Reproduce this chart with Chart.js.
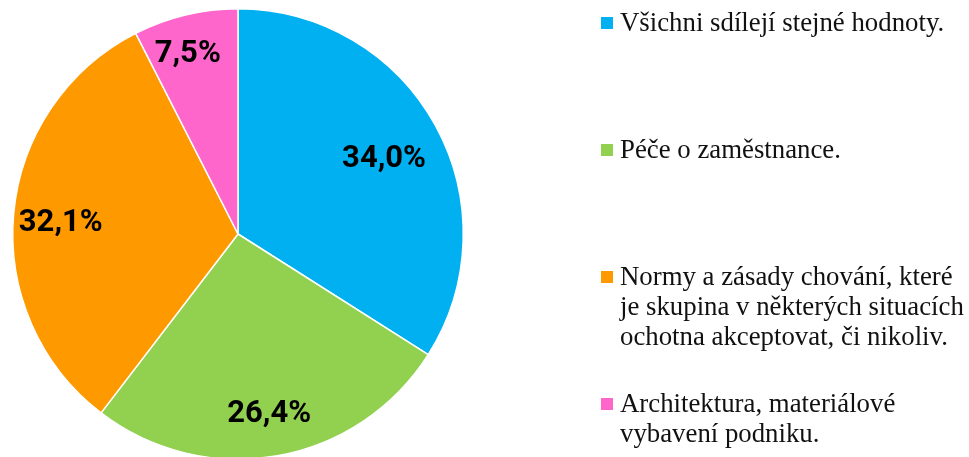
<!DOCTYPE html>
<html>
<head>
    <meta charset="utf-8">
    <title>Hodnoty</title>
    <style>
        html, body { margin: 0; padding: 0; width: 969px; height: 457px; overflow: hidden; background: #fff; }
        canvas { display: block; }
    </style>
</head>
<body>
    <canvas id="myChart" width="969" height="460"></canvas>

    <script src="https://cdn.jsdelivr.net/npm/chart.js"></script>
    <script>
        // data
        const labels = [
            ['Všichni sdílejí stejné hodnoty.'],
            ['Péče o zaměstnance.'],
            ['Normy a zásady chování, které', 'je skupina v některých situacích', 'ochotna akceptovat, či nikoliv.'],
            ['Architektura, materiálové', 'vybavení podniku.']
        ];
        const values = [34.0, 26.4, 32.1, 7.5];
        const colors = ['#00B0F0', '#92D050', '#FF9900', '#FF66CC'];

        // where the percent labels sit, as fraction of radius
        const labelRadius = [0.74, 0.79, 0.79, 0.85];
        const labelShift = [0, 0, 0, -0.03]; // small angle nudge (rad)

        const pieLabels = {
            id: 'pieLabels',
            afterDatasetsDraw(chart) {
                const ctx = chart.ctx;
                const meta = chart.getDatasetMeta(0);
                ctx.save();
                ctx.font = 'bold 31px Roboto, sans-serif';
                ctx.fillStyle = '#000';
                ctx.textAlign = 'center';
                ctx.textBaseline = 'alphabetic';
                meta.data.forEach((arc, i) => {
                    const p = arc.getProps(['x', 'y', 'startAngle', 'endAngle', 'outerRadius']);
                    const mid = (p.startAngle + p.endAngle) / 2 + labelShift[i];
                    const r = p.outerRadius * labelRadius[i];
                    const txt = values[i].toFixed(1).replace('.', ',') + '%';
                    ctx.fillText(txt, p.x + Math.cos(mid) * r, p.y + Math.sin(mid) * r + 13);
                });
                ctx.restore();
            }
        };

        // legend drawn on the right side of the canvas
        const sideLegend = {
            id: 'sideLegend',
            afterDraw(chart, args, opts) {
                const ctx = chart.ctx;
                ctx.save();
                ctx.font = opts.font;
                ctx.textAlign = 'left';
                ctx.textBaseline = 'alphabetic';
                chart.data.labels.forEach((lines, i) => {
                    const base = opts.top + i * opts.step;
                    ctx.fillStyle = chart.data.datasets[0].backgroundColor[i];
                    ctx.fillRect(opts.left, base - 14, 12, 12);
                    ctx.fillStyle = '#111';
                    lines.forEach((line, j) => {
                        ctx.fillText(line, opts.left + 19, base + j * opts.lineHeight);
                    });
                });
                ctx.restore();
            }
        };

        const myChart = new Chart(document.getElementById('myChart'), {
            type: 'pie',
            data: {
                labels: labels,
                datasets: [{
                    data: values,
                    backgroundColor: colors,
                    borderColor: '#fff',
                    borderWidth: 1.5
                }]
            },
            options: {
                responsive: false,
                animation: false,
                layout: { padding: { left: 12, top: 8, right: 505, bottom: 0 } },
                plugins: {
                    legend: { display: false },
                    tooltip: { enabled: false },
                    sideLegend: { left: 601, top: 31, step: 127, lineHeight: 30, font: '26.8px "Liberation Serif", serif' }
                }
            },
            plugins: [pieLabels, sideLegend]
        });
    </script>
</body>
</html>
